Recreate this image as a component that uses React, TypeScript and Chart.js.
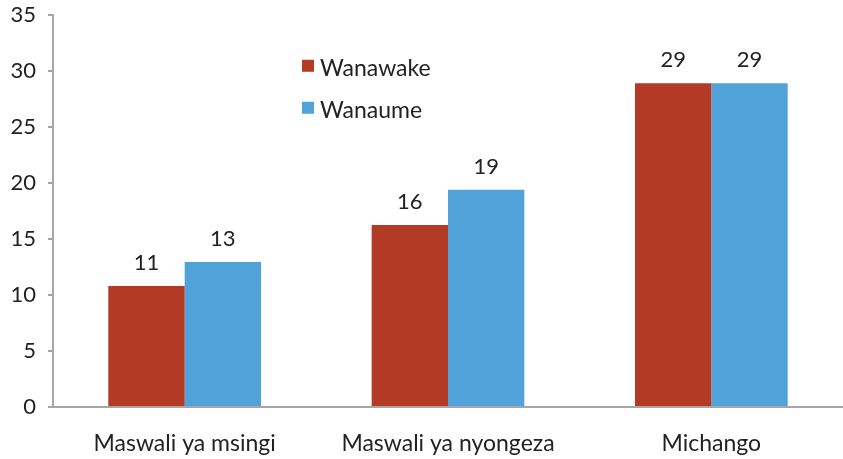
import React, { useEffect, useRef } from "react";
import { Chart, registerables } from "chart.js";

Chart.register(...registerables);

const categories = ["Maswali ya msingi", "Maswali ya nyongeza", "Michango"];
const wanawake = [10.8, 16.25, 28.9];
const wanaume = [12.95, 19.4, 28.9];
const seriesNames = ["Wanawake", "Wanaume"];
const yTicks = [0, 5, 10, 15, 20, 25, 30, 35];

const RED = "#b33a25";
const BLUE = "#52a2da";
const FONT = "Lato, sans-serif";

const labelsPlugin = {
  id: "customLabels",
  afterDatasetsDraw(chart: any) {
    const ctx = chart.ctx;
    ctx.save();
    ctx.font = `22px ${FONT}`;
    ctx.fillStyle = "#222";
    ctx.textAlign = "center";
    ctx.textBaseline = "alphabetic";
    chart.data.datasets.forEach((ds: any, i: number) => {
      const meta = chart.getDatasetMeta(i);
      meta.data.forEach((bar: any, j: number) => {
        ctx.fillText(String(Math.round(ds.data[j])), bar.x, bar.y - 16);
      });
    });
    // legend
    const colors = [RED, BLUE];
    const lx = chart.scales.x.left + 249;
    const ly0 = chart.scales.y.getPixelForValue(30.2);
    ctx.textAlign = "left";
    ctx.textBaseline = "middle";
    ctx.font = `23px ${FONT}`;
    seriesNames.forEach((n, i) => {
      const y = ly0 + i * 42;
      ctx.fillStyle = colors[i];
      ctx.fillRect(lx, y - 9, 12, 12);
      ctx.fillStyle = "#222";
      ctx.fillText(n, lx + 18, y);
    });
    ctx.restore();
  },
};

export default function App() {
  const ref = useRef<HTMLCanvasElement>(null);
  useEffect(() => {
    document.body.style.margin = "0";
    const chart = new Chart(ref.current!, {
      type: "bar",
      data: {
        labels: categories,
        datasets: [
          { label: seriesNames[0], data: wanawake, backgroundColor: RED, categoryPercentage: 0.58, barPercentage: 1 },
          { label: seriesNames[1], data: wanaume, backgroundColor: BLUE, categoryPercentage: 0.58, barPercentage: 1 },
        ],
      },
      options: {
        animation: false,
        responsive: false,
        maintainAspectRatio: false,
        layout: { padding: { top: 15, right: 0, left: 0, bottom: 0 } },
        plugins: { legend: { display: false }, tooltip: { enabled: false } },
        scales: {
          x: {
            grid: { display: false, drawTicks: false },
            border: { color: "#a6a6a6", width: 2 },
            ticks: { font: { family: FONT, size: 23 }, color: "#222", padding: 23 },
            afterFit: (s: any) => { s.height = 52; s.paddingLeft = 0; s.paddingRight = 0; },
          } as any,
          y: {
            min: 0,
            max: 35,
            afterBuildTicks: (s: any) => { s.ticks = yTicks.map((v) => ({ value: v })); },
            grid: { drawOnChartArea: false, tickLength: 5, color: "#a6a6a6", lineWidth: 2 },
            border: { color: "#a6a6a6", width: 2 },
            ticks: { font: { family: FONT, size: 22 }, color: "#222", padding: 12 },
            afterFit: (s: any) => { s.width = 53; s.paddingTop = 0; s.paddingBottom = 0; },
          } as any,
        },
      },
      plugins: [labelsPlugin],
    });
    return () => chart.destroy();
  }, []);
  return (
    <div style={{ position: "absolute", left: 0, top: 0, width: 843, height: 459 }}>
      <canvas ref={ref} width={843} height={459} />
    </div>
  );
}
